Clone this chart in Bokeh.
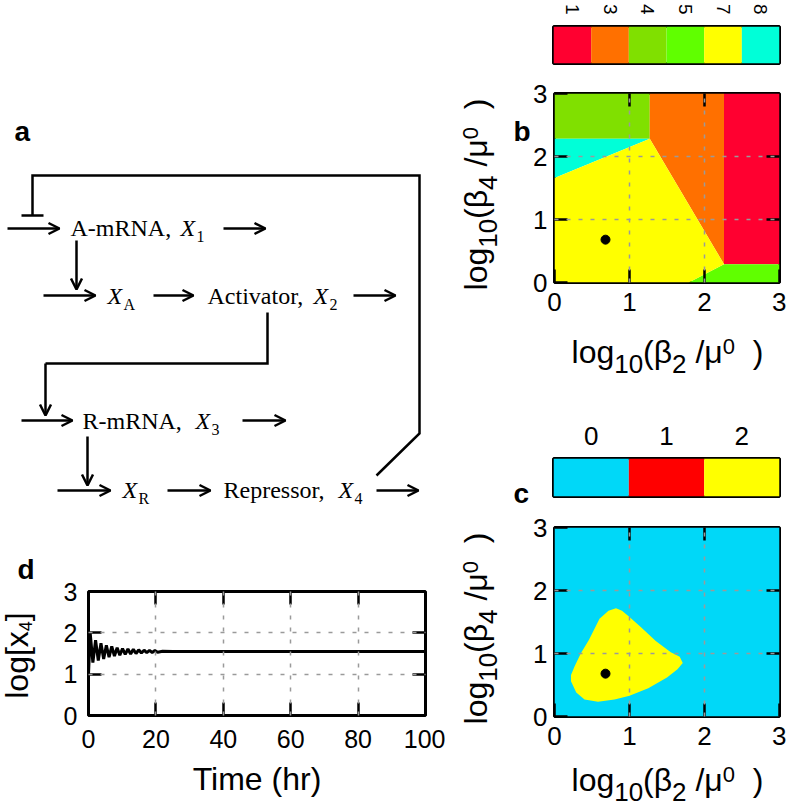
import math
from bokeh.plotting import figure
from bokeh.layouts import column, row
from bokeh.models import (Range1d, FactorRange, FixedTicker, LinearAxis,
                          Arrow, OpenHead)
from bokeh.embed import file_html
from bokeh.resources import INLINE

SANS = "Liberation Sans"
SERIF = "Liberation Serif"

# ---------------- data ----------------
# colour bar of panel b (number of attractor states)
cb_b_labels = ["1", "3", "4", "5", "7", "8"]
cb_b_colors = ["#ff0030", "#ff7000", "#80e000", "#60ff00", "#ffff00", "#00ffd8"]

# panel b regions (log10(beta2/mu0), log10(beta4/mu0)), keyed by colour-bar label
region_b_keys = ["4", "8", "3", "1", "5", "7"]
region_b_xs = [
    [0.0, 1.27, 1.27, 0.0],
    [0.0, 1.27, 0.0],
    [1.27, 2.26, 2.26, 1.27],
    [2.26, 3.0, 3.0, 2.26],
    [1.79, 3.0, 3.0, 2.26],
    [0.0, 1.79, 2.26, 1.27, 0.0],
]
region_b_ys = [
    [2.28, 2.28, 3.0, 3.0],
    [1.66, 2.28, 2.28],
    [3.0, 3.0, 0.29, 2.28],
    [0.29, 0.29, 3.0, 3.0],
    [0.0, 0.0, 0.29, 0.29],
    [0.0, 0.0, 0.29, 2.28, 1.66],
]

# colour bar of panel c
cb_c_labels = ["0", "1", "2"]
cb_c_colors = ["#00d8f8", "#ff0000", "#ffff00"]

# panel c: background region (0) and oscillatory region (2)
region_c0_x = [0.0, 3.0, 3.0, 0.0]
region_c0_y = [0.0, 0.0, 3.0, 3.0]
region_c2_x = [0.22, 0.29, 0.40, 0.58, 0.80, 1.00, 1.25, 1.50, 1.64, 1.71, 1.67,
               1.55, 1.35, 1.15, 1.00, 0.90, 0.82, 0.72, 0.60, 0.46, 0.35, 0.27, 0.22]
region_c2_y = [0.56, 0.38, 0.27, 0.235, 0.27, 0.33, 0.45, 0.62, 0.75, 0.85, 0.95,
               1.02, 1.20, 1.42, 1.58, 1.68, 1.72, 1.68, 1.55, 1.22, 1.00, 0.80, 0.66]

# parameter point shown in b and c
point_x = [0.68]
point_y = [0.68]

# panel d: time course of log[x4]
time_d = [0, 0.5, 1.3, 2.1, 2.9, 3.7, 4.5, 5.3, 6.1, 6.9, 7.7, 8.5, 9.3, 10.1,
          10.9, 11.7, 12.5, 13.3, 14.1, 14.9, 15.7, 16.5, 17.3, 18.1, 18.9,
          19.7, 20.5, 22, 25, 30, 100]
logx4_d = [1.0, 2.0, 1.28, 1.82, 1.33, 1.75, 1.37, 1.70, 1.41, 1.67, 1.44, 1.64,
           1.46, 1.62, 1.48, 1.61, 1.49, 1.60, 1.50, 1.59, 1.51, 1.58, 1.52,
           1.575, 1.525, 1.57, 1.53, 1.555, 1.55, 1.55, 1.55]

ticks_03 = [0, 1, 2, 3]
ticks_time = [0, 20, 40, 60, 80, 100]

# axis-label pieces: (text, font px, baseline shift px); leading spaces = gap
label_b2 = [("log", 32, 0), ("10", 26, 10), ("(β", 32, 0), ("2", 26, 10),
            (" /μ", 32, 0), ("0", 22, -9), ("  )", 32, 0)]
label_b4 = [("log", 32, 0), ("10", 26, 10), ("(β", 32, 0), ("4", 26, 10),
            (" /μ", 32, 0), ("0", 22, -9), ("  )", 32, 0)]
label_x4 = [("log[x", 32, 0), ("4", 18, 4), ("]", 32, 0)]

# panel a: network diagram (page layout positions)
diag_nodes = [  # x_left, baseline, main text, italic symbol x, subscript
    (70, 235, "A-mRNA,", 180, "1"),
    (107, 303, "", 107, "A"),
    (207, 303, "Activator,", 313, "2"),
    (82, 428, "R-mRNA,", 195, "3"),
    (122, 497, "", 122, "R"),
    (223, 497, "Repressor,", 338, "4"),
]
diag_arrows = [  # x0, y0, x1, y1
    (7, 228, 59, 228), (223, 228, 265, 228), (76, 240, 76, 289),
    (43, 295, 95, 295), (153, 295, 193, 295), (353, 295, 395, 295),
    (45, 363, 45, 415),
    (21, 420, 72, 420), (242, 420, 285, 420), (87, 436, 87, 485),
    (57, 490, 110, 490), (167, 490, 210, 490), (376, 490, 418, 490),
]
diag_paths_x = [[267, 267, 45], [376, 419, 419, 32, 32], [21, 43]]
diag_paths_y = [[312, 363, 363], [475, 433, 175, 175, 215], [215, 215]]

# Arial advance widths (em) for piecewise labels
AW = {"l": 0.222, "o": 0.556, "g": 0.556, "(": 0.333, ")": 0.333, "β": 0.573,
      "/": 0.278, " ": 0.278, "μ": 0.576, "[": 0.278, "]": 0.278, "x": 0.5}
MID = 0.33  # distance from alphabetic baseline to the 'middle' anchor, in em


def tw(s, size):
    return sum(AW.get(ch, 0.556) for ch in s) * size


def txt(p, px, py, t, size, font=SANS, style="normal", angle=0.0):
    # canvases use data y = -page y; (px, py) is the start of the baseline
    if angle == 0.0:
        ax_, ay_ = px, py - MID * size
    else:
        ax_, ay_ = px - MID * size, py
    p.text(x=[ax_], y=[-ay_], text=[t], angle=angle, text_font={"value": font},
           text_font_size=f"{size}px", text_font_style=style, text_color="black",
           text_baseline="middle", text_align="left")


def pieces(p, parts, center, base, horizontal=True):
    total = sum(tw(t, s) for t, s, _ in parts)
    pos = center - total / 2 if horizontal else center + total / 2
    for t, s, shift in parts:
        lead = len(t) - len(t.lstrip(" "))
        gap = tw(" " * lead, s)
        core = t.strip(" ")
        pos = pos + gap if horizontal else pos - gap
        if horizontal:
            txt(p, pos, base + shift, core, s)
            pos += tw(core, s)
        else:
            txt(p, base + shift, pos, core, s, angle=math.pi / 2)
            pos -= tw(core, s)


def canvas(x0, x1, y0, y1):
    p = figure(width=x1 - x0, height=y1 - y0, x_range=Range1d(x0, x1),
               y_range=Range1d(-y1, -y0), x_axis_type=None, y_axis_type=None,
               output_backend="svg", toolbar_location=None, min_border=0)
    p.grid.visible = False
    p.outline_line_color = None
    p.background_fill_color = "white"
    p.border_fill_color = "white"
    return p


def style_box(p, xticks, yticks, xgrid, ygrid, tick_font, xstand, ystand):
    p.outline_line_color = "black"
    p.outline_line_width = 3
    p.background_fill_color = "white"
    p.border_fill_color = "white"
    bx, ly = p.below[0], p.left[0]
    bx.ticker = FixedTicker(ticks=xticks)
    ly.ticker = FixedTicker(ticks=yticks)
    bx.major_label_standoff = xstand
    ly.major_label_standoff = ystand
    for ax in (bx, ly):
        ax.axis_line_color = None
        ax.major_tick_in = 13
        ax.major_tick_out = 0
        ax.major_tick_line_width = 2.5
        ax.minor_tick_line_color = None
        ax.major_label_text_font = SANS
        ax.major_label_text_font_size = tick_font
        ax.major_label_text_color = "black"
    for loc, tks in (("above", xgrid), ("right", ygrid)):
        ax = LinearAxis(ticker=FixedTicker(ticks=tks), axis_line_color=None,
                        major_tick_in=13, major_tick_out=0,
                        major_tick_line_width=2.5, minor_tick_line_color=None,
                        major_label_text_font_size="1px",
                        major_label_text_color=None, major_label_standoff=0)
        p.add_layout(ax, loc)
    p.xgrid.ticker = FixedTicker(ticks=xgrid)
    p.ygrid.ticker = FixedTicker(ticks=ygrid)
    for g in p.xgrid + p.ygrid:
        g.grid_line_color = "#9a9a9a"
        g.grid_line_dash = "4 8"
        g.grid_line_width = 1.5
        g.level = "annotation"
    return bx, ly


def colorbar(labels, colors, h, top, bottom, font, standoff, orient=None):
    p = figure(width=256, height=h, x_range=FactorRange(*labels), y_range=Range1d(0, 1),
               x_axis_location="above", y_axis_type=None, output_backend="svg",
               toolbar_location=None, min_border_left=23, min_border_right=7,
               min_border_top=top, min_border_bottom=bottom)
    p.vbar(x=labels, top=1, bottom=0, width=1.0, fill_color=colors, line_color=None)
    p.grid.visible = False
    p.outline_line_color = "black"
    p.outline_line_width = 3
    ax = p.xaxis[0]
    ax.axis_line_color = None
    ax.major_tick_line_color = None
    if orient is not None:
        ax.major_label_orientation = orient
    ax.major_label_text_font = SANS
    ax.major_label_text_font_size = font
    ax.major_label_text_color = "black"
    ax.major_label_standoff = standoff
    return p


# ---------------- panel a (diagram) ----------------
diag = canvas(0, 445, 0, 550)
diag.multi_line(diag_paths_x, [[-v for v in ys] for ys in diag_paths_y],
                line_color="black", line_width=2.5, line_join="miter")
for x0, y0, x1, y1 in diag_arrows:
    diag.add_layout(Arrow(end=OpenHead(size=11, line_width=2.5, line_color="black"),
                          x_start=x0, y_start=-y0, x_end=x1, y_end=-y1,
                          line_width=2.5, line_color="black"))
for x, y, main, xs, sub in diag_nodes:
    if main:
        txt(diag, x, y, main, 24, font=SERIF)
    txt(diag, xs, y, "X", 24, font=SERIF, style="italic")
    txt(diag, xs + 16, y + 6, sub, 16, font=SERIF)
txt(diag, 14, 140, "a", 28, style="bold")

# ---------------- panel d ----------------
dlab = canvas(0, 40, 550, 811)
pieces(dlab, label_x4, 655, 27, horizontal=False)
txt(dlab, 17, 578, "d", 28, style="bold")

pd_ = figure(width=405, height=261, x_range=Range1d(0, 100), y_range=Range1d(0, 3),
             output_backend="svg", toolbar_location=None,
             min_border_left=48, min_border_right=20, min_border_top=41,
             min_border_bottom=96)
bx, ly = style_box(pd_, ticks_time, ticks_03, [20, 40, 60, 80], [1, 2], "25px", 14, 11)
bx.axis_label = "Time (hr)"
bx.axis_label_text_font = SANS
bx.axis_label_text_font_size = "32px"
bx.axis_label_text_font_style = "normal"
bx.axis_label_text_color = "black"
bx.axis_label_standoff = 10
pd_.line(time_d, logx4_d, line_color="black", line_width=3)

# ---------------- right side: label strip ----------------
lab_r = canvas(445, 530, 0, 811)
pieces(lab_r, label_b4, 194, 486, horizontal=False)
pieces(lab_r, label_b4, 628, 486, horizontal=False)
txt(lab_r, 513, 140, "b", 28, style="bold")
txt(lab_r, 513, 502, "c", 28, style="bold")

# ---------------- colour bar b ----------------
cbb = colorbar(cb_b_labels, cb_b_colors, 80, 24, 17, "19px", 6, -math.pi / 2)

# ---------------- panel b ----------------
pb = figure(width=256, height=250, x_range=Range1d(0, 3), y_range=Range1d(0, 3),
            output_backend="svg", toolbar_location=None,
            min_border_left=23, min_border_right=7, min_border_top=13,
            min_border_bottom=48)
style_box(pb, ticks_03, ticks_03, [1, 2], [1, 2], "26px", 10, 7)
bcol = dict(zip(cb_b_labels, cb_b_colors))
pb.patches(region_b_xs, region_b_ys, fill_color=[bcol[k] for k in region_b_keys],
           line_color=None)
pb.scatter(point_x, point_y, size=9, color="black")

xlab_b = canvas(530, 786, 330, 385)
pieces(xlab_b, label_b2, 667, 362)

# ---------------- colour bar c ----------------
cbc = colorbar(cb_c_labels, cb_c_colors, 120, 73, 9, "26px", 8)

# ---------------- panel c ----------------
pc = figure(width=256, height=253, x_range=Range1d(0, 3), y_range=Range1d(0, 3),
            output_backend="svg", toolbar_location=None,
            min_border_left=23, min_border_right=7, min_border_top=22,
            min_border_bottom=42)
style_box(pc, ticks_03, ticks_03, [1, 2], [1, 2], "26px", 10, 7)
ccol = dict(zip(cb_c_labels, cb_c_colors))
pc.patch(region_c0_x, region_c0_y, fill_color=ccol["0"], line_color=None)
pc.patch(region_c2_x, region_c2_y, fill_color=ccol["2"], line_color=None)
pc.scatter(point_x, point_y, size=9, color="black")

xlab_c = canvas(530, 786, 758, 811)
pieces(xlab_c, label_b2, 667, 790)

figs = (diag, dlab, pd_, lab_r, cbb, pb, xlab_b, cbc, pc, xlab_c)
for fig in figs:
    fig.frame_align = False

layout = row(column(diag, row(dlab, pd_)),
             lab_r,
             column(cbb, pb, xlab_b, cbc, pc, xlab_c))
open("out.html", "w").write(file_html(layout, INLINE, "figure"))
